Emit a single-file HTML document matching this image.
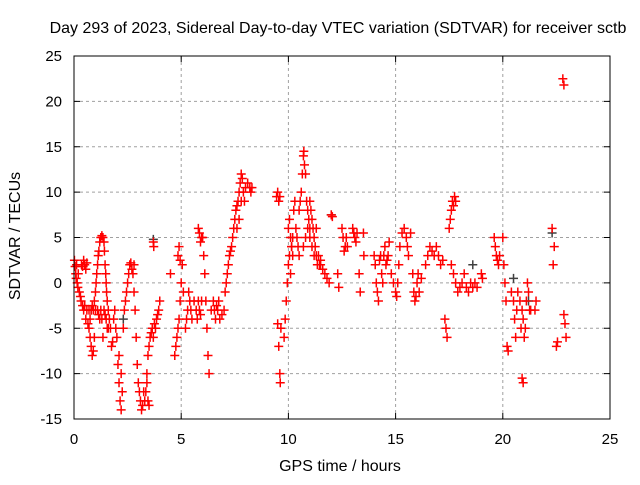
<!DOCTYPE html>
<html><head><meta charset="utf-8">
<style>
body{margin:0;background:#fff;width:640px;height:480px;overflow:hidden;font-family:"Liberation Sans",sans-serif}
svg text{font-family:"Liberation Sans",sans-serif;font-size:15px;fill:#000}
svg text.big{font-size:16px}
</style></head>
<body>
<svg id="chart" width="640" height="480" xmlns="http://www.w3.org/2000/svg">
<text class="big" x="338" y="33" text-anchor="middle">Day 293 of 2023, Sidereal Day-to-day VTEC variation (SDTVAR) for receiver sctb</text>
<g id="grid"></g>
<g id="ticks"></g>
<g id="marks"></g>
<rect x="74" y="56" width="536" height="363" fill="none" stroke="#000" stroke-width="1"/>
<text class="big" x="340" y="471" text-anchor="middle">GPS time / hours</text>
<text class="big" transform="translate(20,236) rotate(-90)" text-anchor="middle">SDTVAR / TECUs</text>
</svg>
<script>
const xTicks=[0,5,10,15,20,25];
const yTicks=[-15,-10,-5,0,5,10,15,20,25];
const trackHours=[
[0.02,0.05,0.08,0.1,0.12,0.15,0.18,0.2,0.25,0.3,0.33],
[0.35,0.4,0.45,0.5,0.55,0.6],
[0.4,0.45,0.5,0.55,0.6,0.65,0.7,0.75,0.8,0.85,0.9,0.95],
[0.7,0.75,0.8,0.85,0.9,0.95,1.0],
[1.0,1.03,1.06,1.1,1.13,1.16,1.2,1.25,1.3,1.35,1.4],
[1.42,1.45,1.48,1.5,1.52,1.55,1.6,1.65],
[1.1,1.15,1.2,1.25,1.3,1.35,1.4,1.45,1.5,1.55,1.6,1.7,1.75,1.8],
[1.85,1.9,1.95,2.0,2.05,2.1,2.15,2.2,2.25],
[2.1,2.2,2.3,2.35,2.4,2.45,2.5,2.55,2.6,2.65,2.7,2.75,2.8],
[2.8,2.85,2.9,2.95,3.0,3.05,3.1,3.15,3.2,3.25,3.3,3.35,3.4,3.45,3.5],
[3.4,3.45,3.5,3.55,3.6,3.65,3.7,3.75,3.8,3.85,3.9,3.95,4.0],
[3.7,3.72],
[4.5],
[4.7,4.75,4.8,4.85,4.9,4.95,5.0,5.05,4.85,4.9,4.95],
[5.1,5.2,5.25,5.3,5.35,5.4,5.45,5.5,5.6,5.7,5.75,5.8,5.85,5.9,5.95],
[5.8,5.85,5.9,5.95,6.0,6.05,6.1,6.15,6.2,6.25,6.3],
[6.4,6.5,6.55,6.6,6.65,6.7,6.75,6.8,6.9],
[7.0,7.05,7.1,7.15,7.2,7.25,7.3,7.35,7.4,7.45,7.5,7.55,7.6,7.65,7.7,7.75,7.8,7.85,7.9,7.95],
[7.6,7.7,7.8,8.0,8.1,8.2,8.25,8.3],
[9.45,9.5,9.55,9.6],
[9.5,9.55,9.6,9.62,9.65],
[9.8,9.85,9.9,9.95,10.0,10.05,10.1,10.15,10.2],
[10.0,10.05,10.1,10.15,10.2,10.25,10.3,10.35,10.4,10.45,10.5],
[10.5,10.55,10.6,10.65,10.7,10.72,10.75,10.8,10.85,10.9,10.95,11.0],
[10.7,10.8,10.9,11.0,11.05,11.1,11.15,11.2,11.25,11.3,11.35,11.4,11.45,11.5],
[11.0,11.1,11.2,11.3,11.5,11.6,11.7,11.8,11.9],
[12.0,12.05],
[12.3,12.35],
[12.5,12.55,12.6,12.65,12.7,12.75],
[13.0,13.05,13.1,13.15,13.2],
[13.3,13.35],
[13.5,13.52],
[14.0,14.05,14.1,14.15,14.2,14.25,14.3,14.35,14.4,14.45,14.5,14.55,14.6,14.65,14.7],
[14.8,14.9,15.0,15.05,15.1,15.15,15.2],
[15.3,15.4,15.5,15.55,15.6,15.7],
[15.8,15.85,15.9,15.95,16.0,16.05,16.1,16.2],
[16.4,16.5,16.6,16.7,16.8,16.9,17.0,17.1,17.2],
[17.3,17.35,17.4],
[17.5,17.55,17.6,17.65,17.7,17.75,17.8],
[17.6,17.7,17.8,17.9,18.0,18.1,18.2,18.3,18.4,18.5,18.6,18.7,18.8],
[19.0,19.05],
[19.6,19.65,19.7,19.75,19.8,19.85],
[20.0,20.05,20.1,20.15,20.2,20.25],
[20.4,20.5,20.55,20.6,20.65,20.7],
[20.8,20.85,20.9,20.95,21.0,21.05,21.1,21.15,21.2,21.25],
[20.9,20.95],
[21.3,21.5,21.55],
[22.3,22.35,22.4],
[22.5,22.55],
[22.8,22.85],
[22.85,22.9,22.95]
];
const trackValues=[
[2.5,1.8,1,0.5,2,0,-0.5,1,-1,-1.5,-2],
[2,1.8,2.5,2,1.5,2.2],
[-2.5,-3,-2.5,-4,-3,-4.5,-5,-6,-7,-8,-7.5,-6],
[-3,-4,-3,-2.5,-3,-2,-3],
[-1,0,1,2,3,3.5,4.5,5,5.2,5,4.5],
[3.5,2,1,0,-1,-2,-3,-4],
[-3,-3.5,-4,-3,-4,-6,-3,-3.5,-4,-5,-5,-5,-7,-6.5],
[-4,-3,-5,-6,-9,-11,-13,-14,-12],
[-8,-10,-5,-3,-2,-1,0,1,2,2.2,1.5,1,2],
[-1,-3,-6,-9,-11,-12,-13,-14,-13.5,-12,-13,-12,-11,-13,-13.5],
[-10,-8,-7,-6,-5.5,-5,-6,-4.5,-5,-4,-3.5,-3,-2],
[4.5,4],
[1],
[-8,-7,-6,-5,-4,-2,0,2,3,4,2.5],
[-1,-5,-4,-3,-1,-2,-3,-4,-2,-3,-4,-2,-3,-3.5,-2],
[6,5.5,4.5,5,5,3,1,-2,-5,-8,-10],
[-3,-2,-3,-4,-2.5,-3,-2,-4,-3.5],
[-3,-1,0,1,2,3,3.5,4,5,6,7,8,8.5,9,10,11,12,11.5,10,9],
[6,7,9,10.5,11,10.5,10,10.5],
[9.5,10,9,9.5],
[-4.5,-7,-10,-11,-5],
[-6,-4,-2,0,2,3,1,4,5],
[6,7,5,4,3,8,9,6,5,4,3],
[8,9,10,12,14,14.5,13,12,9,8,7,6],
[4,5,6,9,8,7,6,5,4,3,2,3,2,2.5],
[5,4,3,6,2,1.5,1,0.5,0],
[7.5,7.3],
[1,-0.5],
[6,5,3.5,4,5,4],
[6,5.5,5,4.5,5.5],
[1,-1],
[5.5,3],
[3,2,0,-1,-2,2.5,3,1,0,3,4,2,2.5,3,4.5],
[1,0,-1,-1.5,0,2,4],
[5.5,6,5,4,3,5.5],
[1,-1,-2,-1.5,0,1,-1,0.5],
[2,3,4,3.5,3,4,3,2,2.5],
[-4,-5,-6],
[6,7,8,9,8.5,9.5,9],
[2,1,0,-1,-0.5,0,1,-0.5,-1,0,-0.5,0,-0.5],
[1,0.5],
[5,4,3,2.5,2,3],
[5,2,0,-2,-7,-7.5],
[-1,-2,-4,-6,-3,-1],
[-2,-5,-3,-4,-6,-5,-2,0,-1,-3],
[-10.5,-11],
[-3,-3,-2],
[6,2,4],
[-7,-6.5],
[22.5,21.8],
[-3.5,-4.5,-6]
];
const greyH=[0.8,2.3,3.7,12.0,18.6,22.3,20.5,21.2];
const greyV=[-3,-4,4.8,7.5,2,5.5,0.5,-2];
const X0=74,X1=610,Y0=419,Y1=56;
function sx(t){return X0+(t-0)/(25-0)*(X1-X0);}
function sy(v){return Y0-(v+15)/(40)*(Y0-Y1);}
const NS='http://www.w3.org/2000/svg';
const grid=document.getElementById('grid'),ticks=document.getElementById('ticks'),marks=document.getElementById('marks');
function mk(tag,attrs,parent){const e=document.createElementNS(NS,tag);for(const k in attrs)e.setAttribute(k,attrs[k]);parent.appendChild(e);return e;}
xTicks.forEach(t=>{
 const x=sx(t);
 if(t>0&&t<25){const g=mk('line',{x1:x,x2:x,y1:Y1,y2:Y0,stroke:'#a0a0a0','stroke-dasharray':'3,3'},grid);
 
 }
 mk('line',{x1:x,x2:x,y1:Y0,y2:Y0-6,stroke:'#000'},ticks);
 mk('line',{x1:x,x2:x,y1:Y1,y2:Y1+6,stroke:'#000'},ticks);
 const l=mk('text',{x:x,y:Y0+25,'text-anchor':'middle'},ticks);l.textContent=t;
 
 
});
yTicks.forEach(v=>{
 const y=sy(v);
 if(v>-15&&v<25){const g=mk('line',{x1:X0,x2:X1,y1:y,y2:y,stroke:'#a0a0a0','stroke-dasharray':'3,3'},grid);
 
 }
 mk('line',{x1:X0,x2:X0+6,y1:y,y2:y,stroke:'#000'},ticks);
 mk('line',{x1:X1,x2:X1-6,y1:y,y2:y,stroke:'#000'},ticks);
 const l=mk('text',{x:X0-12,y:y+5,'text-anchor':'end'},ticks);l.textContent=v;
 
 
});
function plus(t,v,col){
 const x=sx(t),y=sy(v);
 return mk('path',{d:`M${x-4.5},${y}h9M${x},${y-4.5}v9`,stroke:col,'stroke-width':1.5,fill:'none'},marks);
}
greyH.forEach((t,i)=>{const p=plus(t,greyV[i],'#404040');
 
 });
trackHours.forEach((hs,k)=>{
 hs.forEach((t,i)=>{
  const p=plus(t,trackValues[k][i],'#ff0000');
  
  
 });
});
</script>
</body></html>
